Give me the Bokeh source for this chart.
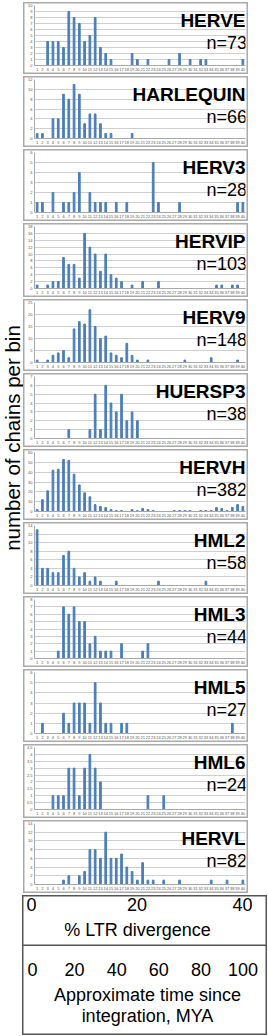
import math
from bokeh.plotting import figure
from bokeh.layouts import column, row
from bokeh.models import FixedTicker, Label, Spacer, LinearAxis
from bokeh.embed import file_html
from bokeh.resources import INLINE

# ---------------- data ----------------
bins = list(range(1, 41))

names = ["HERVE", "HARLEQUIN", "HERV3", "HERVIP", "HERV9", "HUERSP3",
         "HERVH", "HML2", "HML3", "HML5", "HML6", "HERVL"]
n_labels = ["n=73", "n=66", "n=28", "n=103", "n=148", "n=38",
            "n=382", "n=58", "n=44", "n=27", "n=24", "n=82"]

herve     = [0,0,4,4,4,3,9,8,7,4,5,8,3,2,1,0,0,0,2,1,0,1,0,0,0,1,0,2,0,1,0,1,1,0,0,0,0,0,0,1]
harlequin = [1,1,0,4,4,9,8,11,9,3,5,5,3,1,1,0,0,0,1,0,0,0,0,0,0,0,0,0,0,0,0,0,0,0,0,0,0,0,0,0]
herv3     = [1,1,0,2,0,1,1,2,4,0,2,1,1,1,0,1,0,1,0,0,0,0,5,1,0,0,0,1,0,0,0,0,0,0,0,0,0,0,1,1]
hervip    = [1,0,1,2,2,9,7,7,3,16,12,10,5,10,4,3,2,0,1,0,2,0,0,2,0,0,0,0,0,0,0,0,0,0,1,1,0,1,1,0]
herv9     = [1,0,1,3,4,5,2,14,17,16,22,15,10,11,4,3,2,8,3,1,0,1,0,0,0,0,0,0,1,0,0,0,0,2,0,0,0,0,1,0]
huersp3   = [0,0,0,0,0,0,1,0,0,0,1,5,1,6,4,3,5,2,3,2,0,0,0,0,0,0,0,0,0,0,0,0,0,0,0,0,0,0,0,0]
hervh     = [2,12,21,42,43,53,52,38,27,19,15,7,5,4,2,1,1,0,2,1,3,2,1,0,0,0,1,1,1,1,0,1,1,1,4,3,1,4,7,5]
hml2      = [13,4,4,3,3,7,8,4,2,3,1,2,1,0,0,1,0,0,0,0,0,0,0,1,0,0,0,0,0,0,0,0,1,0,0,0,0,0,0,0]
hml3      = [0,0,0,0,1,7,6,7,5,5,2,3,1,1,1,0,2,0,0,0,1,2,0,0,0,0,0,0,0,0,0,0,0,0,0,0,0,0,0,0]
hml5      = [0,1,0,0,0,2,1,3,3,3,1,5,3,1,1,0,1,1,0,0,0,0,0,0,0,0,0,0,0,0,0,0,0,0,0,0,0,1,0,0]
hml6      = [0,0,0,1,1,1,3,3,1,3,4,3,2,0,0,0,0,0,0,0,0,1,0,0,1,0,0,0,0,0,0,0,0,0,0,0,0,0,0,0]
hervl     = [0,0,0,0,0,1,2,0,2,3,8,8,6,12,6,6,7,4,3,1,5,1,1,0,1,0,0,1,0,0,0,0,0,1,0,0,1,0,0,1]

series = [herve, harlequin, herv3, hervip, herv9, huersp3,
          hervh, hml2, hml3, hml5, hml6, hervl]

y_max  = [10, 12, 6, 18, 25, 7, 60, 14, 8, 6, 4.5, 14]
y_step = [1, 2, 1, 2, 5, 1, 10, 2, 1, 1, 0.5, 2]

divergence_ticks = [0, 20, 40]
time_ticks = [0, 20, 40, 60, 80, 100]

# ---------------- style ----------------
FONT = "Liberation Sans"
BLUE = "#4a7ebb"
panel_heights = [72, 71, 72, 74, 72, 74, 71, 72, 71, 73, 74, 73]
LEFT_W = 23


def tick_label(v):
    if float(v).is_integer():
        return str(int(v))
    return str(v).replace(".", ",")


def make_panel(name, nlab, vals, ymax, ystep, h):
    p = figure(width=248 - LEFT_W, height=h, x_range=(0.5, 40.5), y_range=(0, ymax),
               output_backend="svg", toolbar_location=None,
               min_border_left=31 - LEFT_W, min_border_right=3, min_border_top=3, min_border_bottom=9,
               background_fill_color=None, border_fill_color=None,
               outline_line_color=None)
    p.vbar(x=bins, top=vals, width=0.32, color=BLUE)
    nt = int(round(ymax / ystep))
    yt = [round(i * ystep, 3) for i in range(nt + 1)]
    p.xaxis.ticker = FixedTicker(ticks=bins, minor_ticks=[])
    p.yaxis.ticker = FixedTicker(ticks=yt, minor_ticks=[])
    p.yaxis.major_label_overrides = {v: tick_label(v) for v in yt if not float(v).is_integer()}
    p.xgrid.visible = False
    p.ygrid.grid_line_color = "#cfcfcf"
    p.ygrid.grid_line_width = 1
    for ax in p.axis:
        ax.axis_line_color = "#a8a8a8"
        ax.major_tick_line_color = None
        ax.minor_tick_line_color = None
        ax.major_tick_out = 0
        ax.major_tick_in = 0
        ax.major_label_standoff = 2
        ax.major_label_text_font = FONT
        ax.major_label_text_font_size = "4px"
        ax.major_label_text_color = "#555555"
    p.add_layout(Label(x=40.5, y=ymax, x_offset=0, y_offset=-14.5, text=name,
                       text_align="right", text_baseline="alphabetic",
                       text_font=FONT, text_font_size="19px", text_font_style="bold",
                       text_color="#000000"))
    p.add_layout(Label(x=40.5, y=ymax, x_offset=1.5, y_offset=-37, text=nlab,
                       text_align="right", text_baseline="alphabetic",
                       text_font=FONT, text_font_size="18px",
                       text_color="#000000"))
    p.styles = {"box-shadow": "inset 0 0 0 1.5px #aaaaaa"}
    return p


panels = [make_panel(names[i], n_labels[i], series[i], y_max[i], y_step[i], panel_heights[i])
          for i in range(12)]

# left label
lab = figure(width=LEFT_W, height=893, x_range=(0, LEFT_W), y_range=(0, 893),
             x_axis_type=None, y_axis_type=None,
             output_backend="svg", toolbar_location=None,
             min_border=0, background_fill_color=None, border_fill_color=None,
             outline_line_color=None)
lab.grid.visible = False
lab.add_layout(Label(x=LEFT_W / 2, y=893 - 435.5, angle=math.pi / 2,
                     text="number of chains per bin",
                     text_align="center", text_baseline="middle",
                     text_font=FONT, text_font_size="20.5px", text_color="#000000"))

# bottom box A: % LTR divergence
bA = figure(width=245, height=51, x_range=(0, 40.19), y_range=(0, 1),
            x_axis_type=None, y_axis_type=None,
            output_backend="svg", toolbar_location=None,
            min_border_left=9, min_border_right=24, min_border_top=0, min_border_bottom=50,
            background_fill_color=None, border_fill_color=None, outline_line_color=None)
bA.grid.visible = False
axA = LinearAxis(ticker=FixedTicker(ticks=divergence_ticks, minor_ticks=[]),
                 axis_label="% LTR divergence")
bA.add_layout(axA, "below")

# bottom box B: time since integration
bB = figure(width=245, height=89, x_range=(0, 109.2), y_range=(0, 1),
            x_axis_type=None, y_axis_type=None,
            output_backend="svg", toolbar_location=None,
            min_border_left=10, min_border_right=5, min_border_top=0, min_border_bottom=87,
            background_fill_color=None, border_fill_color=None, outline_line_color=None)
bB.grid.visible = False
axB = LinearAxis(ticker=FixedTicker(ticks=time_ticks, minor_ticks=[]),
                 axis_label="Approximate time since\nintegration, MYA")
bB.add_layout(axB, "below")

for ax, s1, s2 in [(axA, 1, 6), (axB, 14, 6)]:
    ax.axis_line_color = None
    ax.major_tick_line_color = None
    ax.minor_tick_line_color = None
    ax.major_tick_out = 0
    ax.major_tick_in = 0
    ax.major_label_standoff = s1
    ax.axis_label_standoff = s2
    ax.major_label_text_font = FONT
    ax.major_label_text_font_size = "18px"
    ax.major_label_text_color = "#000000"
    ax.axis_label_text_font = FONT
    ax.axis_label_text_font_size = "18px"
    ax.axis_label_text_font_style = "normal"
    ax.axis_label_text_color = "#000000"
    ax.axis_label_text_line_height = 1.08

bA.styles = {"box-shadow": "inset 0 0 0 1.5px #555555"}
bB.styles = {"box-shadow": "inset 1.5px 0 0 0 #555555, inset -1.5px 0 0 0 #555555, inset 0 -1.5px 0 0 #555555"}

layout = column(
    Spacer(width=268, height=2),
    row(lab, column(*panels, spacing=2)),
    row(Spacer(width=22, height=51), bA),
    row(Spacer(width=22, height=89), bB),
)

open("out.html", "w").write(file_html(layout, INLINE))
